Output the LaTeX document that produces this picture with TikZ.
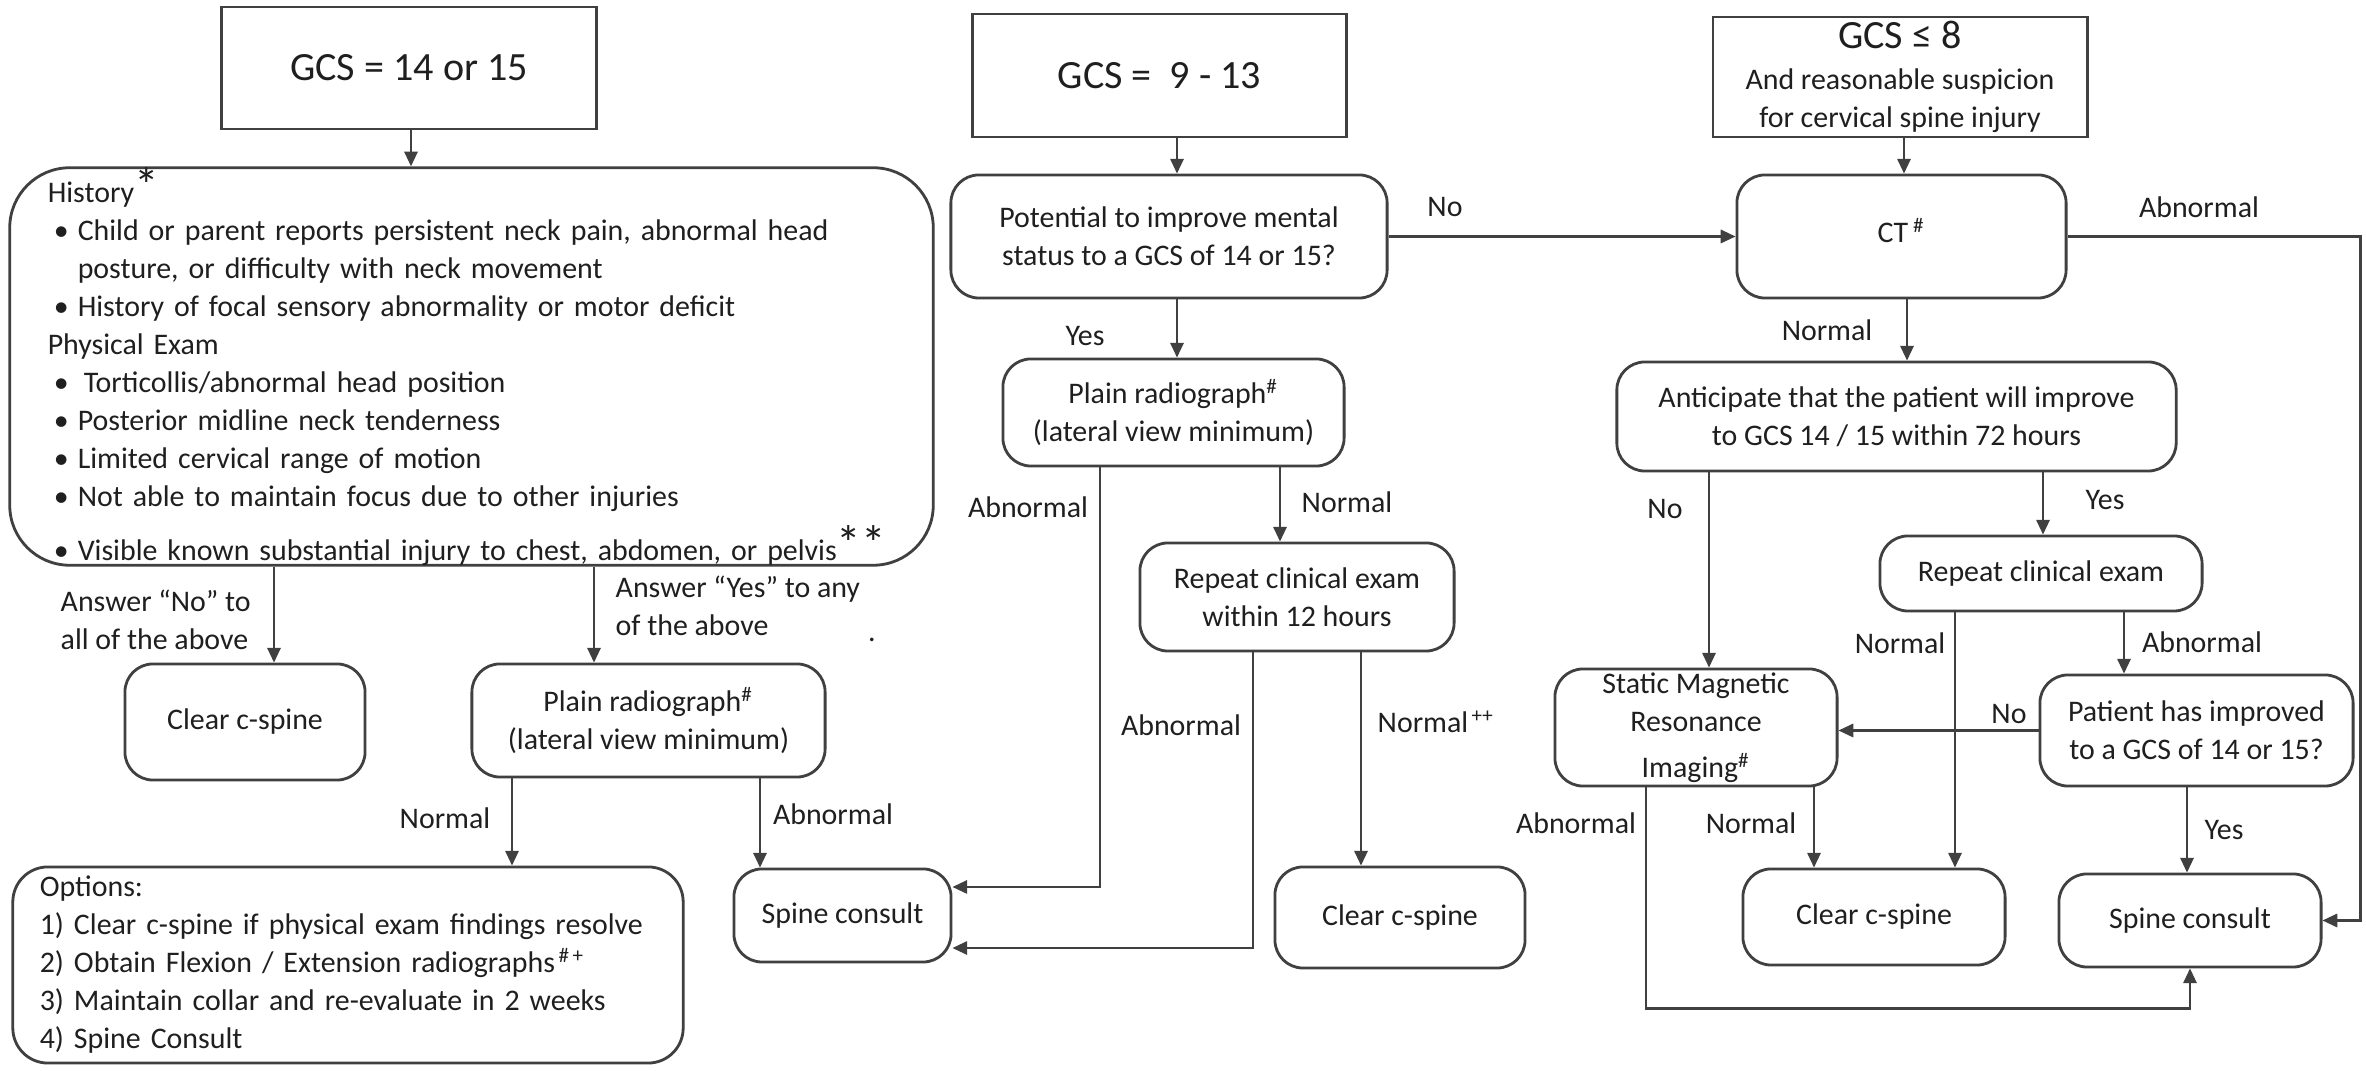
\documentclass[tikz,border=0pt]{standalone}
\usepackage{fontspec}
\setmainfont{Carlito}
\usetikzlibrary{arrows.meta,calc}
\newcommand{\bigstar}[1]{{\fontsize{14}{14}\selectfont #1}}
\begin{document}
\begin{tikzpicture}[x=0.01cm,y=-0.01cm,
  every node/.style={font=\fontsize{8.5}{10.8}\selectfont, text=black!88},
  sqbox/.style={draw=black!75, line width=0.8pt, inner sep=0pt, align=center, font=\fontsize{11.4}{13.5}\selectfont},
  rbox/.style={draw=black!75, line width=0.8pt, rounded corners=0.28cm, inner sep=0pt, align=center},
  lbl/.style={inner sep=0pt, align=left},
  conn/.style={draw=black!75, line width=0.6pt, -{Triangle[length=4.2pt,width=3.8pt]}},
]
\useasboundingbox (0,0) rectangle (2366,1071);
\fill[white] (0,0) rectangle (2366,1071);

% ---------- column 1 ----------
\node[sqbox, minimum width=3.74cm, minimum height=1.22cm] (gcsA) at (409,68) {GCS = 14 or 15};
\node[rbox, rounded corners=0.6cm, minimum width=9.23cm, minimum height=3.95cm, align=left, text width=8.47cm, inner xsep=0.38cm] (hist) at (471.5,366.5) {%
\mbox{History\bigstar{*}}\\
\mbox{\hspace*{0.06cm}\makebox[0.24cm][l]{\textbullet}Child or parent reports persistent neck pain, abnormal head}\\
\mbox{\hspace*{0.30cm}posture, or difficulty with neck movement}\\
\mbox{\hspace*{0.06cm}\makebox[0.24cm][l]{\textbullet}History of focal sensory abnormality or motor deficit}\\
\mbox{Physical Exam}\\
\mbox{\hspace*{0.06cm}\makebox[0.24cm][l]{\textbullet}\hspace*{0.06cm}Torticollis/abnormal head position}\\
\mbox{\hspace*{0.06cm}\makebox[0.24cm][l]{\textbullet}Posterior midline neck tenderness}\\
\mbox{\hspace*{0.06cm}\makebox[0.24cm][l]{\textbullet}Limited cervical range of motion}\\
\mbox{\hspace*{0.06cm}\makebox[0.24cm][l]{\textbullet}Not able to maintain focus due to other injuries}\\[0.1cm]
\mbox{\hspace*{0.06cm}\makebox[0.24cm][l]{\textbullet}Visible known substantial injury to chest, abdomen, or pelvis\bigstar{**}}};
\node[rbox, minimum width=2.40cm, minimum height=1.16cm] (clr1) at (245,722) {Clear c-spine};
\node[rbox, minimum width=3.53cm, minimum height=1.13cm] (plain1) at (648.5,720.5) {Plain radiograph\textsuperscript{\#}\\(lateral view minimum)};
\node[rbox, rounded corners=0.35cm, minimum width=6.70cm, minimum height=1.96cm, align=left, text width=6.16cm, inner xsep=0.27cm] (opts) at (348,965) {%
\mbox{Options:}\\
\mbox{1) Clear c-spine if physical exam findings resolve}\\
\mbox{2) Obtain Flexion / Extension radiographs\textsuperscript{\,\#\,+}}\\
\mbox{3) Maintain collar and re-evaluate in 2 weeks}\\
\mbox{4) Spine Consult}};
\node[rbox, minimum width=2.17cm, minimum height=0.93cm] (spc1) at (842.5,915.5) {Spine consult};

% ---------- column 2 ----------
\node[sqbox, minimum width=3.73cm, minimum height=1.23cm] (gcsD) at (1159.5,75.5) {GCS =\ \ 9 - 13};
\node[rbox, minimum width=4.36cm, minimum height=1.23cm] (pot) at (1169,236.5) {Potential to improve mental\\status to a GCS of 14 or 15?};
\node[rbox, minimum width=3.41cm, minimum height=1.07cm] (plain2) at (1173.5,412.5) {Plain radiograph\textsuperscript{\#}\\(lateral view minimum)};
\node[rbox, minimum width=3.14cm, minimum height=1.08cm] (rep1) at (1297,597) {Repeat clinical exam\\within 12 hours};
\node[rbox, minimum width=2.50cm, minimum height=1.01cm] (clr2) at (1400,917.5) {Clear c-spine};

% ---------- column 3 ----------
\node[sqbox, minimum width=3.74cm, minimum height=1.20cm, font=\fontsize{8.5}{10.8}\selectfont] (gcsE) at (1900,77) {{\fontsize{11.4}{13}\selectfont GCS ≤ 8}\\[0.03cm]And reasonable suspicion\\for cervical spine injury};
\node[rbox, minimum width=3.29cm, minimum height=1.23cm] (ct) at (1901.5,236.5) {\raisebox{0.12cm}{CT\,\textsuperscript{\#}}};
\node[rbox, minimum width=5.59cm, minimum height=1.09cm] (antic) at (1896.5,416.5) {Anticipate that the patient will improve\\to GCS 14 / 15 within 72 hours};
\node[rbox, minimum width=3.22cm, minimum height=0.75cm] (rep2) at (2041,573.5) {Repeat clinical exam};
\node[rbox, minimum width=2.82cm, minimum height=1.17cm] (smri) at (1696,727.5) {Static Magnetic\\Resonance\\[0.08cm]Imaging\textsuperscript{\#}};
\node[rbox, minimum width=3.13cm, minimum height=1.11cm] (pat) at (2196.5,730.5) {Patient has improved\\to a GCS of 14 or 15?};
\node[rbox, minimum width=2.62cm, minimum height=0.96cm] (clr3) at (1874,917) {Clear c-spine};
\node[rbox, minimum width=2.62cm, minimum height=0.93cm] (spc2) at (2190,920.5) {Spine consult};

% ---------- x positions of vertical connectors ----------
\coordinate (xt) at (411,0);
\coordinate (xa) at (274,0);
\coordinate (xb) at (594,0);
\coordinate (xc) at (512,0);
\coordinate (xd) at (760,0);
\coordinate (xe) at (1177,0);
\coordinate (xg) at (1100,0);
\coordinate (xh) at (1280,0);
\coordinate (xi) at (1253,0);
\coordinate (xj) at (1361,0);
\coordinate (xk) at (1904,0);
\coordinate (xl) at (1907,0);
\coordinate (xm) at (1709,0);
\coordinate (xn) at (2043,0);
\coordinate (xo) at (1955,0);
\coordinate (xp) at (2124,0);
\coordinate (xq) at (1814,0);
\coordinate (xr) at (1646,0);
\coordinate (xs) at (2187,0);

% ---------- connectors ----------
\draw[conn] (gcsA.south -| xt) -- (hist.north -| xt);
\draw[conn] (hist.south -| xa) -- (clr1.north -| xa);
\draw[conn] (hist.south -| xb) -- (plain1.north -| xb);
\draw[conn] (plain1.south -| xc) -- (opts.north -| xc);
\draw[conn] (plain1.south -| xd) -- (spc1.north -| xd);
\draw[conn] (gcsD.south -| xe) -- (pot.north -| xe);
\draw[conn] (pot.east) -- (ct.west);
\draw[conn] (pot.south -| xe) -- (plain2.north -| xe);
\draw[conn] (plain2.south -| xg) |- ([yshift=0.285cm]spc1.east);
\draw[conn] (plain2.south -| xh) -- (rep1.north -| xh);
\draw[conn] (rep1.south -| xi) |- ([yshift=-0.325cm]spc1.east);
\draw[conn] (rep1.south -| xj) -- (clr2.north -| xj);
\draw[conn] (gcsE.south -| xk) -- (ct.north -| xk);
\draw[conn] (ct.east) -| ([xshift=0.38cm]spc2.east) -- (spc2.east);
\draw[conn] (ct.south -| xl) -- (antic.north -| xl);
\draw[conn] (antic.south -| xm) -- (smri.north -| xm);
\draw[conn] (antic.south -| xn) -- (rep2.north -| xn);
\draw[conn] (rep2.south -| xo) -- (clr3.north -| xo);
\draw[conn] (rep2.south -| xp) -- (pat.north -| xp);
\draw[conn] (pat.west) -- (pat.west -| smri.east);
\draw[conn] (smri.south -| xq) -- (clr3.north -| xq);
\draw[conn] (smri.south -| xr) |- ([yshift=-0.40cm]spc2.south) -- (spc2.south);
\draw[conn] (pat.south -| xs) -- (spc2.north -| xs);

% ---------- labels ----------
\node[lbl, anchor=west] (lNo) at (60,620) {Answer “No” to\\all of the above};
\node[lbl, anchor=west] (lYes) at (615,606) {Answer “Yes” to any\\of the above};
\node[lbl] (lN1) at (445,818) {Normal};
\node[lbl] (lA1) at (833,814) {Abnormal};
\node[lbl] (dot) at (872,640) {.};
\node[lbl] (lNoTop) at (1445,207) {No};
\node[lbl] (lYesM) at (1085,336) {Yes};
\node[lbl] (lA2) at (1028,507) {Abnormal};
\node[lbl] (lN2) at (1347,502) {Normal};
\node[lbl] (lA3) at (1181,725) {Abnormal};
\node[lbl, anchor=west] (lN3) at (1377,722) {Normal\textsuperscript{\,++}};
\node[lbl] (lA4) at (2199,207) {Abnormal};
\node[lbl] (lN4) at (1827,330) {Normal};
\node[lbl] (lNo2) at (1665,509) {No};
\node[lbl] (lYes2) at (2105,500) {Yes};
\node[lbl] (lN5) at (1900,643) {Normal};
\node[lbl] (lA5) at (2202,642) {Abnormal};
\node[lbl] (lNo3) at (2009,714) {No};
\node[lbl] (lN6) at (1751,823) {Normal};
\node[lbl] (lA6) at (1576,823) {Abnormal};
\node[lbl] (lYes3) at (2224,830) {Yes};
\end{tikzpicture}
\end{document}
